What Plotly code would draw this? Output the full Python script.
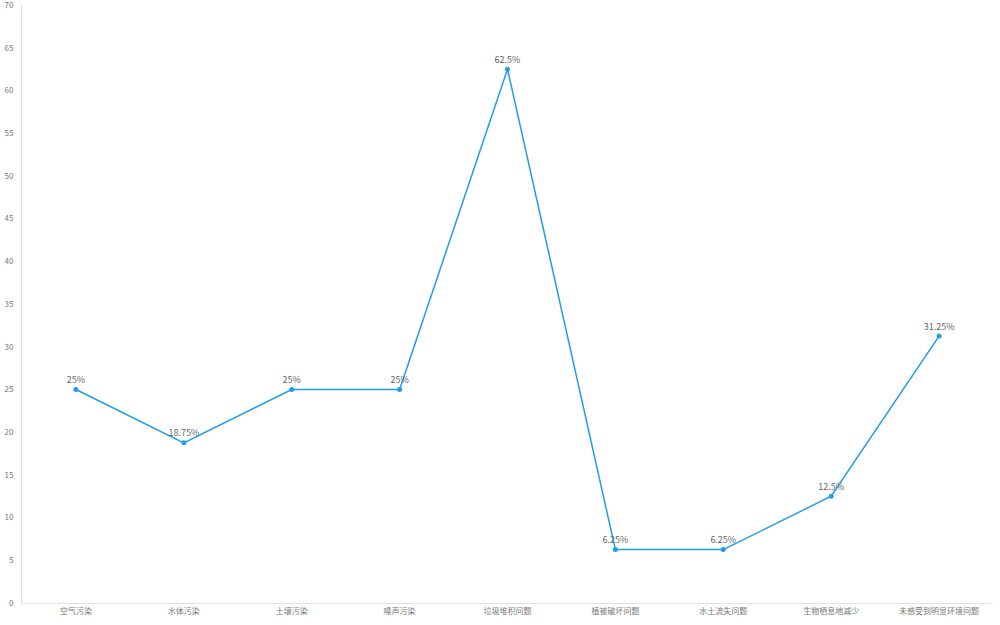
import plotly.graph_objects as go

categories = ["空气污染", "水体污染", "土壤污染", "噪声污染", "垃圾堆积问题",
              "植被破坏问题", "水土流失问题", "生物栖息地减少", "未感受到明显环境问题"]
values = [25, 18.75, 25, 25, 62.5, 6.25, 6.25, 12.5, 31.25]
labels = ["25%", "18.75%", "25%", "25%", "62.5%", "6.25%", "6.25%", "12.5%", "31.25%"]
y_ticks = [0, 5, 10, 15, 20, 25, 30, 35, 40, 45, 50, 55, 60, 65, 70]

font_family = "Noto Sans CJK SC, Noto Sans, sans-serif"

fig = go.Figure()
fig.add_trace(go.Scatter(
    x=categories, y=values, mode="lines+markers+text",
    text=labels, textposition="top center",
    textfont=dict(size=9, color="#666666", family=font_family),
    line=dict(color="#1f9cec", width=1.5),
    marker=dict(color="#1f9cec", size=5),
    cliponaxis=False, hoverinfo="x+y",
))

fig.update_layout(
    width=1000, height=625,
    margin=dict(l=22, r=7, t=5, b=22, autoexpand=False),
    paper_bgcolor="white", plot_bgcolor="white",
    showlegend=False,
    font=dict(family=font_family, size=8, color="#777777"),
)
fig.update_xaxes(
    type="category", range=[-0.5, len(categories) - 0.5], automargin=False,
    showgrid=False, showline=True, linecolor="#e3e3ea", linewidth=1,
    ticks="", tickfont=dict(size=8, color="#777777"), zeroline=False,
)
fig.update_yaxes(
    range=[0, 70.02], tickvals=y_ticks, showgrid=False, showline=True,
    automargin=False, linecolor="#dcdcef", linewidth=1, ticks="", zeroline=False,
    tickfont=dict(size=8, color="#777777"), ticklabelstandoff=6,
    ticklabeloverflow="allow",
)

fig.write_html("out.html", config={"displayModeBar": False},
               post_script="document.body.style.margin='0';")
